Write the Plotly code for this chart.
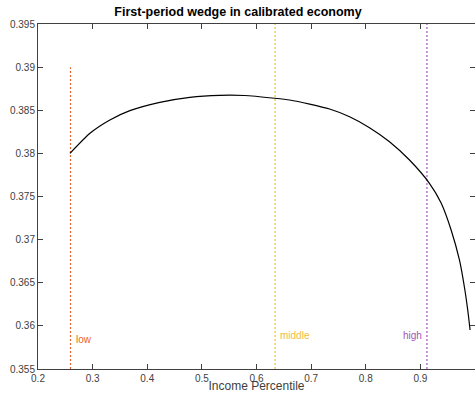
import plotly.graph_objects as go

# Data
percentile = [0.2585, 0.2951, 0.3316, 0.3682, 0.4230, 0.4779, 0.5327, 0.578,
              0.6333, 0.6607, 0.6973, 0.7338, 0.7704, 0.8069, 0.8435, 0.8801,
              0.9166, 0.938, 0.9563, 0.9715, 0.9806, 0.9867, 0.991]
wedge = [0.3800, 0.38233, 0.38387, 0.38495, 0.38592, 0.3865, 0.38673, 0.38671,
         0.38639, 0.38619, 0.38572, 0.38514, 0.38425, 0.38298, 0.38135, 0.37923,
         0.37653, 0.37425, 0.37112, 0.36764, 0.36451, 0.36184, 0.35952]

group_names = ["low", "middle", "high"]
group_x = [0.2595, 0.634, 0.912]
group_top = [0.39, 0.395, 0.395]
group_colors = ["#E8642A", "#F2BC3C", "#A553B5"]
label_y = [0.3584, 0.3589, 0.3589]

x_ticks = [0.2, 0.3, 0.4, 0.5, 0.6, 0.7, 0.8, 0.9, 1.0]
x_tick_text = ["0.2", "0.3", "0.4", "0.5", "0.6", "0.7", "0.8", "0.9", "1"]
y_ticks = [0.355, 0.36, 0.365, 0.37, 0.375, 0.38, 0.385, 0.39, 0.395]
y_tick_text = ["0.355", "0.36", "0.365", "0.37", "0.375", "0.38", "0.385", "0.39", "0.395"]

fig = go.Figure()

for name, gx, top, col in zip(group_names, group_x, group_top, group_colors):
    fig.add_trace(go.Scatter(x=[gx, gx], y=[0.355, top], mode="lines",
                             line=dict(color=col, width=1.2, dash="2px,2px"),
                             showlegend=False, hoverinfo="skip"))

fig.add_trace(go.Scatter(x=percentile, y=wedge, mode="lines",
                         line=dict(color="black", width=1.2, shape="spline", smoothing=0.6),
                         showlegend=False))

for name, gx, ly, col in zip(group_names, group_x, label_y, group_colors):
    if name == "high":
        fig.add_annotation(x=gx, y=ly, text=name, showarrow=False,
                           xanchor="right", xshift=-3,
                           font=dict(color=col, size=10, family="Liberation Sans"))
    else:
        fig.add_annotation(x=gx, y=ly, text=name, showarrow=False,
                           xanchor="left", xshift=3,
                           font=dict(color=col, size=10, family="Liberation Sans"))

axis_common = dict(showgrid=False, zeroline=False, showline=True,
                   linecolor="#404040", linewidth=1, ticks="inside",
                   ticklen=5, tickcolor="#404040", mirror="ticks",
                   tickfont=dict(size=10, color="#404040", family="Liberation Sans"))

W, H = 475, 393
fig.update_layout(
    width=W, height=H,
    margin=dict(l=38, r=0, t=24, b=24),
    plot_bgcolor="white", paper_bgcolor="white",
    title=dict(text="<b>First-period wedge in calibrated economy</b>",
               x=238 / W, xanchor="center", y=1 - 12 / H, yanchor="middle",
               font=dict(size=12.5, color="black", family="Liberation Sans")),
    xaxis=dict(range=[0.2, 1.0], tickvals=x_ticks, ticktext=x_tick_text,
               title=dict(text="Income Percentile", standoff=0,
                          font=dict(size=12, color="#404040", family="Liberation Sans")),
               **axis_common),
    yaxis=dict(range=[0.355, 0.395], tickvals=y_ticks, ticktext=y_tick_text,
               **axis_common),
)

# remove the default 8px page margin so the figure fills the window exactly
fig.write_html("out.html", config={"displayModeBar": False},
               post_script="document.body.style.margin='0';document.body.style.overflow='hidden';")
